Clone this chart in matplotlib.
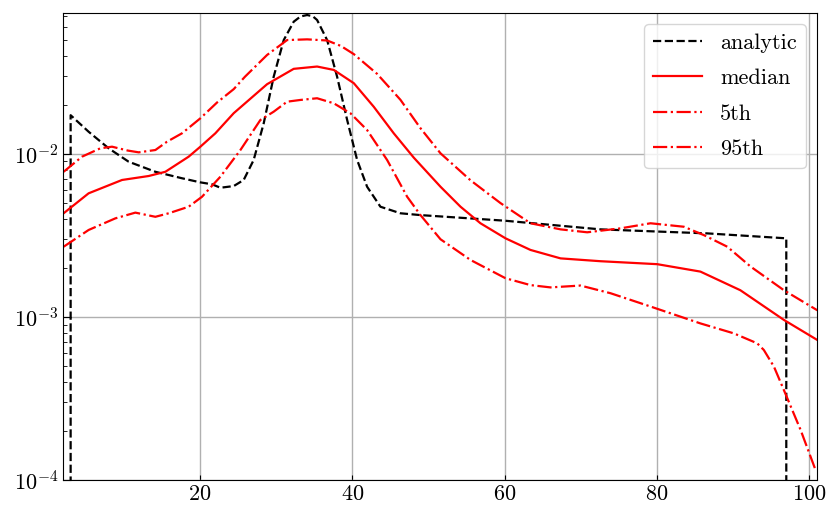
import matplotlib
matplotlib.use("Agg")
import matplotlib.pyplot as plt

# --- DATA ---
X_ANALYTIC = [3, 3, 5.36, 7.99, 10.62, 14.13, 17.63, 20.04, 21.58, 22.67, 24.42, 25.73,
              27.04, 28.36, 29.67, 30.99, 32.30, 33.2, 34.06, 34.8, 35.37, 36.69, 38.00,
              39.32, 40.63, 41.94, 43.69, 46.32, 48.95, 60, 72.6, 80.5, 86.6, 97, 97]
Y_ANALYTIC = [1e-7, 0.0173, 0.0137, 0.01084, 0.00897, 0.00778, 0.0071, 0.0067, 0.00652,
              0.00621, 0.00636, 0.00693, 0.00919, 0.01543, 0.0298, 0.050, 0.0648,
              0.0698, 0.0712, 0.0700, 0.0664, 0.050, 0.0298, 0.01617, 0.00919, 0.0063,
              0.00475, 0.00433, 0.00422, 0.0039, 0.00345, 0.00334, 0.00326, 0.00304,
              1e-7]

X_MEDIAN = [2.08, 5.36, 9.75, 13.25, 15.44, 18.5, 20.04, 22.01, 24.42, 28.80, 32.30,
            35.37, 37.56, 40.19, 42.81, 45.44, 48.07, 51.58, 54.21, 56.83, 60.12,
            63.40, 67.35, 72.60, 80.05, 85.72, 90.97, 96.69, 101.08]
Y_MEDIAN = [0.00433, 0.00574, 0.00693, 0.00733, 0.00778, 0.00963, 0.01109, 0.0134,
            0.0178, 0.0268, 0.0333, 0.0344, 0.0328, 0.0272, 0.0195, 0.0134, 0.0095,
            0.0063, 0.00475, 0.00376, 0.00304, 0.00258, 0.00229, 0.0022, 0.00211,
            0.0019, 0.00146, 0.00096, 0.000723]

X_P5 = [2.08, 5.36, 8.87, 11.5, 14.13, 15.88, 18.5, 20.26, 22.67, 25.30, 27.92, 29.67,
        31.43, 33.18, 35.37, 37.56, 39.75, 41.94, 44.57, 47.20, 48.95, 51.58, 55.52,
        60.12, 63.40, 66.02, 69.97, 73.91, 79.17, 85.72, 90.11, 93.18, 94.05, 95.38,
        96.69, 98.88, 100.85]
Y_P5 = [0.0027, 0.00342, 0.00403, 0.00437, 0.00412, 0.00433, 0.00475, 0.00547,
        0.00726, 0.01058, 0.01617, 0.01818, 0.02094, 0.02146, 0.02198, 0.02047,
        0.01778, 0.01403, 0.00919, 0.00547, 0.00422, 0.0030, 0.00224, 0.00173,
        0.00157, 0.00152, 0.00156, 0.0014, 0.00116, 0.000914, 0.000794, 0.00069,
        0.000628, 0.000496, 0.000356, 0.000203, 0.000115]

X_P95 = [2.08, 4.49, 6.90, 8.44, 10.5, 11.94, 14.13, 15.66, 17.63, 20.04, 22.23, 24.42,
         25.9, 28.80, 31.43, 34.06, 36.69, 38.5, 40.19, 43.26, 46.32, 48.95, 51.58,
         55.52, 59.46, 63.40, 67.35, 70.85, 75.23, 79.17, 83.55, 86.18, 89.25, 92.31,
         96.69, 101.08]
Y_P95 = [0.00778, 0.00963, 0.01084, 0.01109, 0.0105, 0.01024, 0.01058, 0.0119, 0.0134,
         0.01656, 0.0207, 0.0250, 0.0298, 0.0405, 0.0500, 0.0505, 0.0497, 0.0460,
         0.0410, 0.0310, 0.0215, 0.0144, 0.0101, 0.0069, 0.0050, 0.00376, 0.00345,
         0.00331, 0.0035, 0.00376, 0.00358, 0.00318, 0.0027, 0.00204, 0.00146, 0.0011]

plt.rcParams['font.family'] = 'serif'
plt.rcParams['font.serif'] = ['cmr10']
plt.rcParams['mathtext.fontset'] = 'cm'
plt.rcParams['axes.formatter.use_mathtext'] = True
plt.rcParams['font.size'] = 16

fig = plt.figure(figsize=(8.37, 5.19), dpi=100)
ax = fig.add_axes([0.0753, 0.075, 0.9005, 0.90])

ax.plot(X_ANALYTIC, Y_ANALYTIC, 'k--', lw=1.6, label='analytic')
ax.plot(X_MEDIAN, Y_MEDIAN, color='red', ls='-', lw=1.6, label='median')
ax.plot(X_P5, Y_P5, color='red', ls='-.', lw=1.6, label='5th')
ax.plot(X_P95, Y_P95, color='red', ls='-.', lw=1.6, label='95th')

ax.set_yscale('log')
ax.set_xlim(2, 101)
ax.set_ylim(1e-4, 0.0733)
ax.set_xticks([20, 40, 60, 80, 100])
ax.grid(True, which='major', color='#b0b0b0', lw=1.0)
ax.tick_params(which='both', direction='in')
ax.tick_params(axis='y', which='major', length=6)
ax.tick_params(axis='y', which='minor', length=3)
ax.legend(loc='upper right', fontsize=16, labelspacing=0.72, handlelength=2.2)

fig.savefig('out.png', dpi=100)
